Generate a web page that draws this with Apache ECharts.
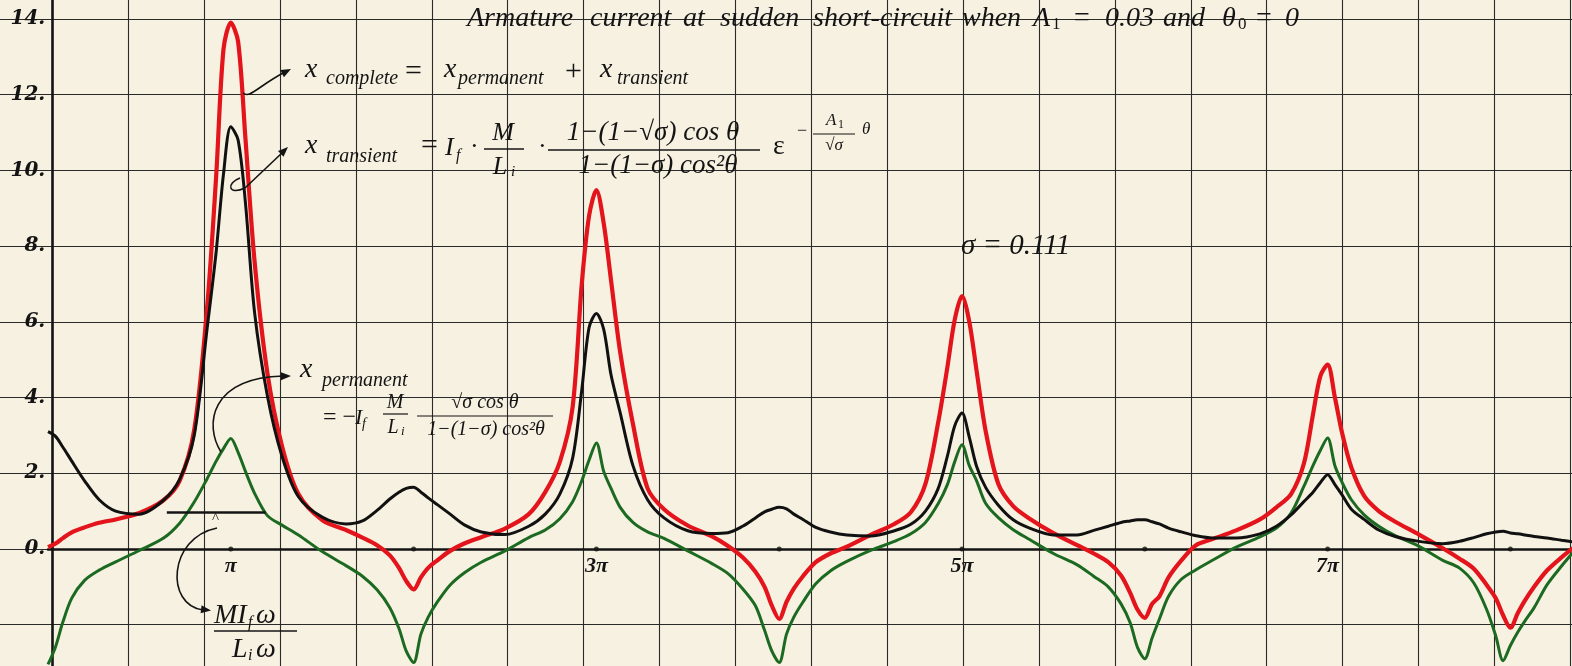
<!DOCTYPE html>
<html>
<head>
<meta charset="utf-8">
<script src="https://cdn.jsdelivr.net/npm/echarts/dist/echarts.min.js"></script>
<style>
html,body{margin:0;padding:0;background:#f7f1e1;}
#chart{width:1572px;height:666px;}
</style>
</head>
<body>
<div id="chart"></div>
<script>
// theta in units of pi
const theta = [
  0,0.04,0.08,0.13,0.2,0.28,0.37,0.5,0.63,0.72,0.8,0.87,0.92,0.96,
  1,1.04,1.08,1.13,1.2,1.28,1.37,1.5,1.63,1.72,1.8,1.87,1.92,1.96,
  2,2.04,2.08,2.13,2.2,2.28,2.37,2.5,2.63,2.72,2.8,2.87,2.92,2.96,
  3,3.04,3.08,3.13,3.2,3.28,3.37,3.5,3.63,3.72,3.8,3.87,3.92,3.96,
  4,4.04,4.08,4.13,4.2,4.28,4.37,4.5,4.63,4.72,4.8,4.87,4.92,4.96,
  5,5.04,5.08,5.13,5.2,5.28,5.37,5.5,5.63,5.72,5.8,5.87,5.92,5.96,
  6,6.04,6.08,6.13,6.2,6.28,6.37,6.5,6.63,6.72,6.8,6.87,6.92,6.96,
  7,7.04,7.08,7.13,7.2,7.28,7.37,7.5,7.63,7.72,7.8,7.87,7.92,7.96,
  8,8.04,8.08,8.13,8.2,8.28,8.35
];
const xPermanent = [
  -3.05,-2.6,-1.95,-1.3,-0.83,-0.56,-0.34,-0.04,0.28,0.68,1.24,1.85,2.32,2.65,
  2.92,2.55,2.05,1.47,0.88,0.63,0.37,-0.07,-0.44,-0.72,-1.08,-1.55,-2.1,-2.7,
  -3.0,-2.25,-1.8,-1.4,-0.95,-0.62,-0.35,-0.05,0.3,0.5,0.8,1.25,1.8,2.35,
  2.8,2.05,1.6,1.1,0.7,0.45,0.28,-0.05,-0.38,-0.65,-1.05,-1.5,-2.15,-2.7,
  -3.0,-2.25,-1.8,-1.4,-0.92,-0.58,-0.33,-0.04,0.2,0.4,0.7,1.2,1.7,2.3,
  2.75,2.2,1.8,1.2,0.82,0.51,0.25,-0.12,-0.42,-0.72,-1.0,-1.45,-1.95,-2.6,
  -2.9,-2.35,-1.85,-1.25,-0.8,-0.55,-0.3,0.05,0.32,0.55,0.95,1.65,2.2,2.6,
  2.93,2.2,1.75,1.3,0.9,0.6,0.35,0.07,-0.3,-0.5,-0.9,-1.6,-2.3,-2.95,
  -2.55,-2.2,-1.9,-1.55,-0.95,-0.45,-0.05
];
const xTransient = [
  3.1,2.98,2.7,2.32,1.8,1.3,1.0,0.92,1.28,1.84,3.0,5.8,7.85,9.9,
  11.15,10.8,9.15,6.25,4.05,2.45,1.38,0.84,0.66,0.74,1.02,1.32,1.5,1.6,
  1.63,1.5,1.35,1.17,0.92,0.63,0.45,0.38,0.6,0.92,1.45,2.4,4.2,5.85,
  6.22,5.8,4.6,3.6,2.2,1.3,0.82,0.48,0.41,0.43,0.6,0.82,0.98,1.05,
  1.1,1.06,0.92,0.78,0.57,0.45,0.37,0.34,0.48,0.65,1.0,1.6,2.45,3.25,
  3.59,2.95,2.18,1.62,1.15,0.77,0.55,0.37,0.37,0.49,0.6,0.7,0.74,0.77,
  0.77,0.72,0.66,0.55,0.45,0.35,0.29,0.29,0.4,0.6,0.9,1.25,1.5,1.75,
  1.96,1.7,1.42,1.05,0.78,0.5,0.33,0.2,0.14,0.2,0.3,0.4,0.45,0.47,
  0.42,0.4,0.37,0.33,0.29,0.23,0.18
];
const xComplete = [
  0.05,0.14,0.28,0.44,0.57,0.69,0.78,0.95,1.28,1.8,3.15,6.35,9.85,13.2,
  13.9,13.4,10.85,7.6,4.65,2.72,1.45,0.76,0.5,0.3,0.1,-0.17,-0.5,-0.85,
  -1.07,-0.75,-0.5,-0.3,-0.05,0.15,0.31,0.54,0.92,1.5,2.3,3.75,7.0,8.8,
  9.48,8.6,7.1,5.2,3.3,1.6,1.05,0.62,0.34,0.08,-0.22,-0.6,-1.0,-1.5,
  -1.85,-1.4,-1.05,-0.72,-0.35,-0.12,0.06,0.37,0.66,0.97,1.72,3.35,4.8,6.05,
  6.68,6.0,4.7,3.1,1.7,1.13,0.8,0.42,0.1,-0.12,-0.35,-0.7,-1.16,-1.6,
  -1.82,-1.45,-1.25,-0.75,-0.3,0.1,0.26,0.49,0.78,1.1,1.45,2.25,3.55,4.56,
  4.87,4.0,3.05,2.15,1.4,1.0,0.72,0.38,0.02,-0.25,-0.52,-0.95,-1.3,-1.75,
  -2.08,-1.7,-1.36,-1.0,-0.57,-0.22,0.05
];
const piTicks = [1,2,3,4,5,6,7,8];
const piLabels = {1:'π',3:'3π',5:'5π',7:'7π'};
const yTickLabels = [0,2,4,6,8,10,12,14];
const amplitudeMark = [0.65, 1.19, 0.98]; // from, to (θ/π), level

const INK = '#141414';
const SERIF = '"Liberation Serif","DejaVu Serif",serif';
function txt(s, x, y, size, o) {
  o = o || {};
  return {type:'text', x:x, y:y, z:50, silent:true,
    style:{text:s, font:(o.up?'':'italic ')+(o.bold?'bold ':'')+size+'px '+SERIF,
      fill:INK, textAlign:o.align||'left', textVerticalAlign:'middle'}};
}
function ln(x1,y1,x2,y2,w){return {type:'line',z:50,silent:true,shape:{x1:x1,y1:y1,x2:x2,y2:y2},style:{stroke:INK,lineWidth:w||1.4}};}
function bz(p,w){return {type:'bezierCurve',z:50,silent:true,shape:{x1:p[0],y1:p[1],cpx1:p[2],cpy1:p[3],cpx2:p[4],cpy2:p[5],x2:p[6],y2:p[7]},style:{stroke:INK,lineWidth:w||1.6,fill:null}};}
function head(pts){return {type:'polygon',z:50,silent:true,shape:{points:pts},style:{fill:INK}};}

const graphics = [
  // title
  txt('Armature',467,19,28), txt('current',590,19,28), txt('at',683,19,28), txt('sudden',720,19,28),
  txt('short-circuit',813,19,28), txt('when',962,19,28), txt('A',1033,19,28), txt('1',1052,25,17,{up:1}),
  txt('=',1074,19,28,{up:1}), txt('0.03',1105,19,28), txt('and',1163,19,28), txt('θ',1222,19,28),
  txt('0',1238,25,17,{up:1}), txt('=',1256,19,28,{up:1}), txt('0',1285,19,28),
  // x complete
  txt('x',305,70,28), txt('complete',326,79,20), txt('=',405,72,30,{up:1}), txt('x',444,70,28),
  txt('permanent',458,79,20), txt('+',565,72,30,{up:1}), txt('x',600,70,28), txt('transient',617,79,20),
  // x transient
  txt('x',305,146,28), txt('transient',326,157,20), txt('=',421,146,30,{up:1}), txt('I',445,148,26),
  txt('f',456,156,16), txt('·',470,147,26,{up:1}), txt('M',503,133,26,{align:'center'}), ln(484,149,524,149),
  txt('L',500,167,26,{align:'center'}), txt('i',511,172,15), txt('·',538,147,26,{up:1}),
  txt('1−(1−√σ) cos θ',653,133,27,{align:'center'}), ln(548,150,760,150),
  txt('1−(1−σ) cos²θ',658,166,27,{align:'center'}), txt('ε',773,147,28,{up:1}),
  txt('−',797,131,18,{up:1}), txt('A',826,121,17), txt('1',838,125,12,{up:1}), ln(813,134,855,134,1.2),
  txt('√σ',834,146,17,{align:'center'}), txt('θ',862,130,17),
  // x permanent
  txt('x',300,370,28), txt('permanent',322,381,20), txt('= −',323,418,24,{up:1}),
  txt('I',355,418,22), txt('f',362,424,14), txt('M',395,403,20,{align:'center'}), ln(383,414,408,414,1.2),
  txt('L',393,428,20,{align:'center'}), txt('i',401,432,13),
  txt('√σ cos θ',485,403,20,{align:'center'}), ln(417,416,553,416,1.2),
  txt('1−(1−σ) cos²θ',486,430,20,{align:'center'}),
  // sigma
  txt('σ = 0.111',961,246,29),
  // MIfω / Liω
  txt('MI',214,616,28), txt('f',248,623,16), txt('ω',256,616,28), ln(214,631,297,631),
  txt('L',232,650,28), txt('i',248,656,16), txt('ω',256,650,28),
  txt('^',212,519,15,{up:1}),
  // arrows
  bz([243,93,250,99,258,86,285,72]), head([[291,69],[283.9,77.2],[280.3,70.0]]),
  bz([240,178,226,183,228,196,245,188]), ln(245,188,283,152,1.6), head([[288,147],[283.5,156.8],[278.0,151.0]]),
  bz([221,452,204,425,210,378,283,376]), head([[291,376],[281,380.3],[281,372.3]]),
  bz([217,528,168,538,165,605,203,610]), head([[211,610.5],[200.6,613.3],[201.6,605.3]])
];

const pair = ys => theta.map((t,i)=>[t, ys[i]]);
const GRID_LINE = {color:'#2a2a2a', width:1.1};
const AXIS_FONT = {color:INK, fontFamily:'DejaVu Serif', fontStyle:'italic', fontSize:20};

const chart = echarts.init(document.getElementById('chart'), null, {renderer:'canvas'});
chart.setOption({
  backgroundColor:'#f7f1e1',
  animation:false,
  grid:[
    {left:-23.6, top:-56.8, width:1605.6, height:757.2, containLabel:false, outerBoundsMode:'none'},
    {left:48, top:-56.8, width:1534, height:757.2, containLabel:false, outerBoundsMode:'none'},
    {left:48, top:0, width:1534, height:549, containLabel:false, outerBoundsMode:'none'}
  ],
  xAxis:[
    {gridIndex:0, type:'value', min:0, max:21.154, interval:1,
      axisLine:{show:false}, axisTick:{show:false}, axisLabel:{show:false},
      splitLine:{show:true, lineStyle:GRID_LINE}},
    {gridIndex:1, type:'value', min:0, max:8.3917, interval:1,
      axisLine:{show:true, onZero:true, lineStyle:{color:INK, width:2.6}},
      axisTick:{show:false}, splitLine:{show:false}, axisLabel:{show:false}},
    {gridIndex:2, type:'value', min:0, max:8.3917, interval:1, position:'bottom',
      axisLine:{show:false, onZero:false}, axisTick:{show:false}, splitLine:{show:false},
      axisLabel:Object.assign({show:true, margin:6,
        formatter:v => (Math.abs(v-Math.round(v))<1e-6 && piLabels[Math.round(v)]) ? piLabels[Math.round(v)] : ''},
        AXIS_FONT, {fontSize:22, fontFamily:'"Liberation Serif","DejaVu Serif",serif', fontWeight:'bold'})}
  ],
  yAxis:[
    {gridIndex:0, type:'value', min:-4, max:16, interval:2, offset:-75.9, position:'left',
      axisLine:{show:true, onZero:false, lineStyle:{color:INK, width:2.6}},
      axisTick:{show:false},
      axisLabel:Object.assign({show:true, margin:7, fontWeight:'bold',
        formatter:v => yTickLabels.indexOf(v) >= 0 ? v + '.' : ''}, AXIS_FONT),
      splitLine:{show:true, lineStyle:GRID_LINE}},
    {gridIndex:1, type:'value', min:-4, max:16, show:false, splitLine:{show:false}},
    {gridIndex:2, type:'value', min:0, max:1, show:false, splitLine:{show:false}}
  ],
  series:[
    {name:'x complete', type:'line', xAxisIndex:1, yAxisIndex:1, data:pair(xComplete),
      smooth:0.3, showSymbol:false, symbol:'none', lineStyle:{color:'#e3141b', width:4.2}, z:3},
    {name:'x permanent', type:'line', xAxisIndex:1, yAxisIndex:1, data:pair(xPermanent),
      smooth:0.3, showSymbol:false, symbol:'none', lineStyle:{color:'#1c6a21', width:3}, z:4},
    {name:'x transient', type:'line', xAxisIndex:1, yAxisIndex:1, data:pair(xTransient),
      smooth:0.3, showSymbol:false, symbol:'none', lineStyle:{color:'#111111', width:3}, z:5,
      markLine:{silent:true, symbol:['none','none'], label:{show:false},
        lineStyle:{color:INK, width:2.6, type:'solid'},
        data:[[{coord:[amplitudeMark[0], amplitudeMark[2]]},{coord:[amplitudeMark[1], amplitudeMark[2]]}]]}},
    {name:'ticks', type:'scatter', xAxisIndex:1, yAxisIndex:1, data:piTicks.map(k=>[k,0]),
      symbolSize:5, itemStyle:{color:INK}, z:6, silent:true}
  ],
  graphic:graphics
});
</script>
</body>
</html>
